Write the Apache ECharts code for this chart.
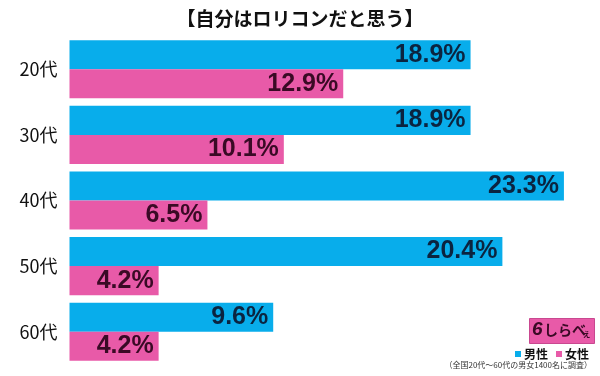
<!DOCTYPE html>
<html lang="ja">
<head>
<meta charset="UTF-8">
<title>自分はロリコンだと思う</title>
<script src="https://cdn.jsdelivr.net/npm/echarts@6/dist/echarts.min.js"></script>
<style>
  * { margin: 0; padding: 0; }
  body { background: #fff; }
  #chart { width: 600px; height: 376px; }
</style>
</head>
<body>
<div id="chart"></div>
<script>
const ages = ['20代', '30代', '40代', '50代', '60代'];
const male = [18.9, 18.9, 23.3, 20.4, 9.6];
const female = [12.9, 10.1, 6.5, 4.2, 4.2];

const JP = '"Noto Sans CJK JP", sans-serif';
const NUM = '"Liberation Sans", Arial, sans-serif';

const chart = echarts.init(document.getElementById('chart'));
chart.setOption({
  backgroundColor: '#fff',
  animation: false,
  title: {
    text: '【自分はロリコンだと思う】',
    left: 'center',
    top: 4,
    textStyle: { fontFamily: JP, fontSize: 19, fontWeight: 'bold', color: '#111' }
  },
  legend: {
    right: 6,
    top: 343,
    itemWidth: 6,
    itemHeight: 6,
    itemGap: 8,
    icon: 'rect',
    textStyle: { fontFamily: JP, fontSize: 12, fontWeight: 'bold', color: '#111', padding: [0, 0, 0, -2] },
    data: ['男性', '女性']
  },
  grid: { left: 69.5, right: 0, top: 36.5, height: 328 },
  xAxis: {
    type: 'value', min: 0, max: 25,
    show: false
  },
  yAxis: {
    type: 'category',
    data: ages,
    inverse: true,
    axisLine: { show: false },
    axisTick: { show: false },
    axisLabel: { margin: 12, fontFamily: JP, fontSize: 18, color: '#111' }
  },
  series: [
    {
      name: '男性', type: 'bar', data: male,
      barGap: '0%', barCategoryGap: '11.5%',
      itemStyle: { color: '#08adeb' },
      label: {
        show: true, position: 'insideRight', distance: 5,
        formatter: p => p.value.toFixed(1) + '%',
        fontFamily: NUM, fontSize: 25, fontWeight: 'bold', color: '#0b2440'
      }
    },
    {
      name: '女性', type: 'bar', data: female,
      itemStyle: { color: '#e85aa8' },
      label: {
        show: true, position: 'insideRight', distance: 5,
        formatter: p => p.value.toFixed(1) + '%',
        fontFamily: NUM, fontSize: 25, fontWeight: 'bold', color: '#3a0a25'
      }
    }
  ],
  graphic: [
    {
      type: 'rect', left: 529, top: 318,
      shape: { width: 65, height: 25 },
      style: { fill: '#e85aa8', stroke: '#c94890', lineWidth: 1 }
    },
    {
      type: 'text', left: 532, top: 320,
      style: { text: '6', font: 'bold italic 19px ' + NUM, fill: '#3a0a25' }
    },
    {
      type: 'text', left: 544, top: 323,
      style: { text: 'しらべ', font: 'bold 14px ' + JP, fill: '#3a0a25' }
    },
    {
      type: 'text', left: 582, top: 329,
      style: { text: 'ぇ', font: 'bold 9px ' + JP, fill: '#3a0a25' }
    },
    {
      type: 'text', right: 8, top: 361,
      style: { text: '（全国20代～60代の男女1400名に調査）', font: '8px ' + JP, fill: '#333' }
    }
  ]
});
</script>
</body>
</html>
